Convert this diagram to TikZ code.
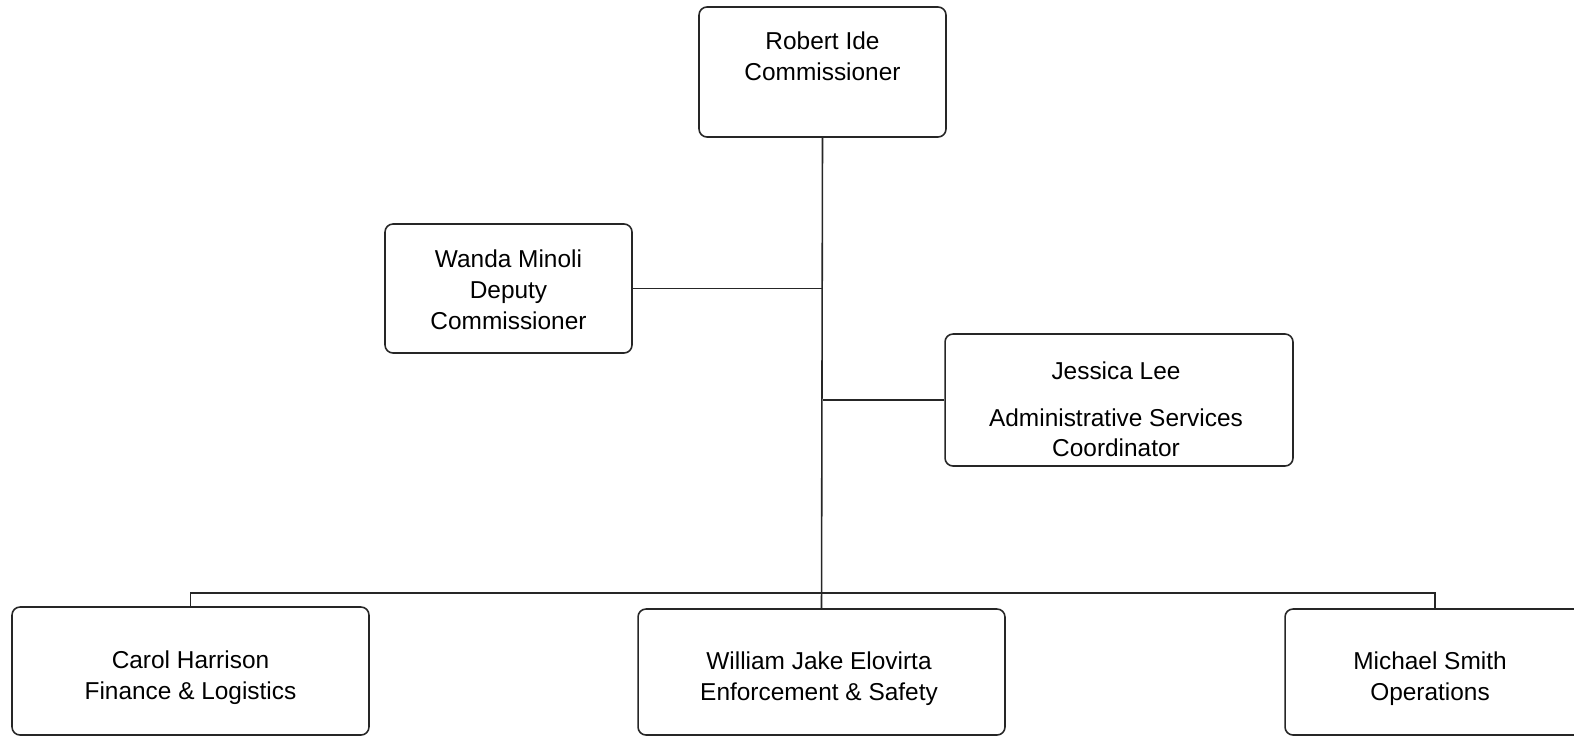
\documentclass[tikz,border=0pt]{standalone}
\usepackage{fontspec}
\setmainfont{Liberation Sans}
\usetikzlibrary{calc}

\tikzset{
  post/.style={draw=black!85, line width=0.9pt, rounded corners=4.5pt, fill=white},
  who/.style={align=center, font=\fontsize{13.9}{17.5}\selectfont, inner sep=0pt},
  link/.style={draw=black!85, line width=0.9pt}
}

\begin{document}
\begin{tikzpicture}[x=0.02cm, y=-0.02cm]

  \useasboundingbox (0,0) rectangle (1574,737);

  % boxes
  \node[post, minimum width=4.94cm, minimum height=2.6cm] (ide) at (822.5,72) {};
  \node[post, minimum width=4.94cm, minimum height=2.58cm] (minoli) at (508.5,288.5) {};
  \node[post, minimum width=6.96cm, minimum height=2.64cm] (lee) at (1119,400) {};
  \node[post, minimum width=7.14cm, minimum height=2.56cm] (harrison) at (190.5,671) {};
  \node[post, minimum width=7.34cm, minimum height=2.52cm] (elovirta) at (821.5,672) {};
  \node[post, minimum width=6.0cm, minimum height=2.52cm] (smith) at (1435,672) {};

  % names
  \node[who] (ideName) at (822.5,56) {Robert Ide\\Commissioner};
  \node[who] (minoliName) at (508.5,290) {Wanda Minoli\\Deputy\\Commissioner};
  \node[who] (leeName) at (1116,409.5) {Jessica Lee\\[9pt]Administrative Services\\Coordinator};
  \node[who] (harrisonName) at (190.5,678) {Carol Harrison\\Finance \& Logistics};
  \node[who] (elovirtaName) at (819,679) {William Jake Elovirta\\Enforcement \& Safety};
  \node[who] (smithName) at (1430,679) {Michael Smith\\Operations};

  % lines
  \coordinate (bus) at (822.5,593);
  \draw[link] (ide.south) -- (elovirta.north);
  \draw[link] (minoli.east) -- (ide.south |- minoli.east);
  \draw[link] (lee.west) -- (ide.south |- lee.west);
  \draw[link] (harrison.north) |- (bus) -| (smith.north);
\end{tikzpicture}
\end{document}
